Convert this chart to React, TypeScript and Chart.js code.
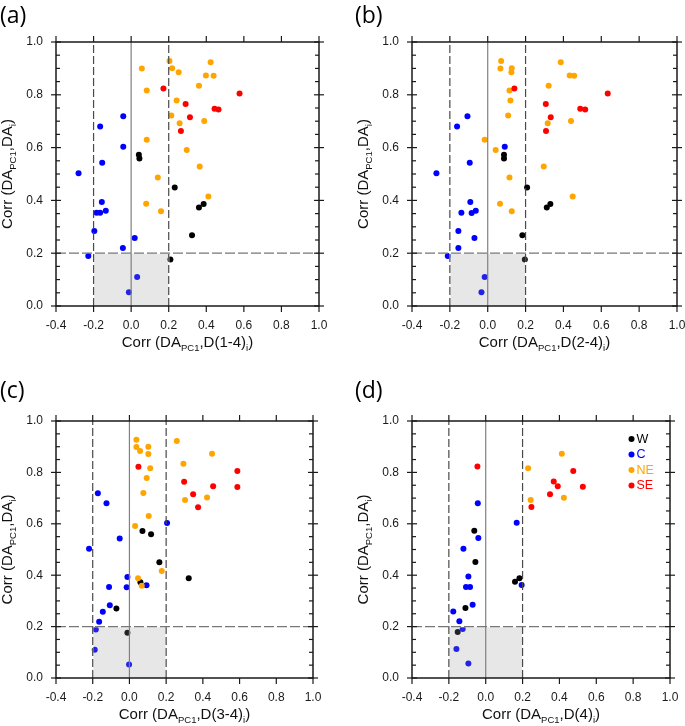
import React, { useEffect, useRef } from "react";
import { Chart, registerables } from "chart.js";
Chart.register(...registerables);

type Pt = [number, number];

const GROUP_NAMES = ["W", "C", "NE", "SE"];
const GROUP_COLORS = ["#000000", "#0000ff", "#ffa500", "#ff0000"];
const X_MIN = -0.4;
const X_MAX = 1.0;
const Y_MIN = 0.0;
const Y_MAX = 1.0;
const TICK_STEP = 0.2;
const MINOR_STEP = 0.05;

// Panel (a): Corr(DA_PC1, D(1-4)_i) vs Corr(DA_PC1, DA_i)
const aW: Pt[] = [[0.041, 0.573], [0.044, 0.559], [0.232, 0.449], [0.386, 0.386], [0.361, 0.373], [0.324, 0.268], [0.209, 0.176]];
const aC: Pt[] = [[-0.042, 0.719], [-0.165, 0.68], [-0.042, 0.603], [-0.154, 0.543], [-0.28, 0.503], [-0.156, 0.394], [-0.184, 0.353], [-0.165, 0.353], [-0.135, 0.361], [-0.196, 0.284], [0.019, 0.258], [-0.044, 0.22], [-0.228, 0.189], [0.032, 0.11], [-0.012, 0.052]];
const aNE: Pt[] = [[0.204, 0.928], [0.423, 0.923], [0.057, 0.9], [0.218, 0.901], [0.253, 0.885], [0.398, 0.873], [0.439, 0.872], [0.361, 0.834], [0.083, 0.816], [0.242, 0.778], [0.214, 0.722], [0.258, 0.692], [0.389, 0.701], [0.083, 0.63], [0.296, 0.591], [0.365, 0.528], [0.142, 0.487], [0.411, 0.415], [0.08, 0.387], [0.159, 0.359]];
const aSE: Pt[] = [[0.172, 0.824], [0.577, 0.805], [0.29, 0.765], [0.444, 0.747], [0.465, 0.744], [0.313, 0.715], [0.265, 0.663]];

// Panel (b): Corr(DA_PC1, D(2-4)_i)
const bW: Pt[] = [[0.086, 0.573], [0.086, 0.559], [0.208, 0.449], [0.331, 0.386], [0.312, 0.373], [0.183, 0.268], [0.196, 0.176]];
const bC: Pt[] = [[-0.107, 0.719], [-0.162, 0.68], [0.09, 0.603], [-0.095, 0.543], [-0.271, 0.503], [-0.092, 0.394], [-0.139, 0.353], [-0.085, 0.352], [-0.063, 0.361], [-0.155, 0.284], [-0.07, 0.258], [-0.155, 0.22], [-0.211, 0.189], [-0.016, 0.11], [-0.033, 0.052]];
const bNE: Pt[] = [[0.071, 0.928], [0.386, 0.923], [0.067, 0.9], [0.127, 0.901], [0.125, 0.885], [0.433, 0.873], [0.457, 0.872], [0.322, 0.834], [0.115, 0.816], [0.12, 0.778], [0.108, 0.722], [0.317, 0.692], [0.44, 0.701], [-0.016, 0.63], [0.042, 0.591], [0.296, 0.528], [0.115, 0.487], [0.449, 0.415], [0.065, 0.387], [0.127, 0.359]];
const bSE: Pt[] = [[0.141, 0.824], [0.634, 0.805], [0.307, 0.765], [0.489, 0.747], [0.515, 0.744], [0.333, 0.715], [0.308, 0.663]];

// Panel (c): Corr(DA_PC1, D(3-4)_i)
const cW: Pt[] = [[0.071, 0.572], [0.118, 0.559], [0.163, 0.45], [0.06, 0.373], [0.323, 0.388], [-0.071, 0.27], [-0.011, 0.176]];
const cC: Pt[] = [[-0.172, 0.719], [-0.125, 0.68], [0.205, 0.603], [-0.053, 0.543], [-0.22, 0.503], [-0.011, 0.393], [-0.111, 0.354], [-0.015, 0.353], [0.093, 0.361], [-0.107, 0.283], [-0.145, 0.258], [-0.165, 0.219], [-0.183, 0.189], [-0.189, 0.11], [-0.002, 0.053]];
const cNE: Pt[] = [[0.038, 0.927], [0.258, 0.922], [0.038, 0.899], [0.103, 0.9], [0.058, 0.883], [0.45, 0.873], [0.103, 0.872], [0.294, 0.834], [0.113, 0.816], [0.094, 0.778], [0.076, 0.72], [0.423, 0.702], [0.303, 0.693], [0.105, 0.63], [0.031, 0.591], [0.176, 0.416], [0.047, 0.388], [0.067, 0.359]];
const cSE: Pt[] = [[0.049, 0.822], [0.588, 0.805], [0.298, 0.764], [0.456, 0.746], [0.588, 0.743], [0.347, 0.715], [0.374, 0.664]];

// Panel (d): Corr(DA_PC1, D(4)_i)
const dW: Pt[] = [[-0.062, 0.573], [-0.056, 0.451], [0.159, 0.375], [0.183, 0.388], [-0.11, 0.272], [-0.152, 0.179]];
const dC: Pt[] = [[-0.043, 0.68], [0.168, 0.604], [-0.04, 0.545], [-0.121, 0.503], [-0.094, 0.395], [-0.107, 0.354], [-0.085, 0.354], [0.195, 0.362], [-0.071, 0.285], [-0.176, 0.259], [-0.143, 0.221], [-0.125, 0.191], [-0.159, 0.113], [-0.094, 0.056]];
const dNE: Pt[] = [[0.413, 0.873], [0.23, 0.816], [0.244, 0.693], [0.424, 0.701]];
const dSE: Pt[] = [[-0.045, 0.823], [0.475, 0.805], [0.369, 0.765], [0.391, 0.746], [0.527, 0.744], [0.349, 0.715], [0.248, 0.665]];

const PANEL_LETTERS = ["(a)", "(b)", "(c)", "(d)"];
const X_TITLE_MIDS = ["D(1-4)", "D(2-4)", "D(3-4)", "D(4)"];

const FONT = "'Liberation Sans', Arial, Helvetica, sans-serif";
const LETTER_FONT = "'Open Sans', 'Noto Sans', sans-serif";
const FRAME = "#1a1a1a";

type PanelCfg = {
  letter: string;
  xMid: string;
  groups: Pt[][];
  left: number;
  top: number;
  right: number;
  bottom: number;
  topPad: number;
  letterX: number;
  letterY: number;
  legend: boolean;
};

const PANELS: PanelCfg[] = [
  { letter: PANEL_LETTERS[0], xMid: X_TITLE_MIDS[0], groups: [aW, aC, aNE, aSE], left: 56, top: 42, right: 319, bottom: 306, topPad: 42, letterX: 0, letterY: 16, legend: false },
  { letter: PANEL_LETTERS[1], xMid: X_TITLE_MIDS[1], groups: [bW, bC, bNE, bSE], left: 412, top: 42, right: 677, bottom: 306, topPad: 42, letterX: 355, letterY: 16, legend: false },
  { letter: PANEL_LETTERS[2], xMid: X_TITLE_MIDS[2], groups: [cW, cC, cNE, cSE], left: 56, top: 421, right: 313, bottom: 678, topPad: 50, letterX: 0, letterY: 391, legend: false },
  { letter: PANEL_LETTERS[3], xMid: X_TITLE_MIDS[3], groups: [dW, dC, dNE, dSE], left: 412, top: 421, right: 670, bottom: 678, topPad: 50, letterX: 355, letterY: 391, legend: true },
];

const LEFT_W = 56;
const RIGHT_PAD = 8;
const BOTTOM_H = 46;

type Part = { t: string; sub?: boolean };

function fmt(v: any) {
  const n = Number(v);
  return (Math.abs(n) < 1e-9 ? 0 : n).toFixed(1);
}

function richWidth(ctx: CanvasRenderingContext2D, parts: Part[], size: number, subSize: number) {
  let w = 0;
  for (const p of parts) {
    ctx.font = `${p.sub ? subSize : size}px ${FONT}`;
    w += ctx.measureText(p.t).width;
  }
  return w;
}

function drawRich(ctx: CanvasRenderingContext2D, parts: Part[], cx: number, baseline: number, size: number, subSize: number, subOff: number) {
  const w = richWidth(ctx, parts, size, subSize);
  let x = cx - w / 2;
  ctx.textAlign = "left";
  ctx.textBaseline = "alphabetic";
  for (const p of parts) {
    ctx.font = `${p.sub ? subSize : size}px ${FONT}`;
    ctx.fillText(p.t, x, baseline + (p.sub ? subOff : 0));
    x += ctx.measureText(p.t).width;
  }
}

function seg(ctx: CanvasRenderingContext2D, x1: number, y1: number, x2: number, y2: number) {
  ctx.beginPath();
  ctx.moveTo(x1, y1);
  ctx.lineTo(x2, y2);
  ctx.stroke();
}

function makeDeco(cfg: PanelCfg, canvasLeft: number, canvasTop: number) {
  return {
    id: "deco",
    afterDraw(chart: any) {
      const ctx: CanvasRenderingContext2D = chart.ctx;
      const a = chart.chartArea;
      const xs = chart.scales.x;
      const ys = chart.scales.y;
      const L = a.left;
      const R = a.right;
      const T = a.top;
      const B = a.bottom;
      const xl = xs.getPixelForValue(-0.2);
      const xr = xs.getPixelForValue(0.2);
      const x0 = xs.getPixelForValue(0);
      const y2 = ys.getPixelForValue(0.2);

      ctx.save();
      ctx.fillStyle = "rgba(150,150,150,0.23)";
      ctx.fillRect(xl, y2, xr - xl, B - y2);
      ctx.lineWidth = 1.2;
      ctx.strokeStyle = "#ffffff";
      seg(ctx, xl, B, xl, y2);
      seg(ctx, xr, B, xr, y2);
      seg(ctx, xl, y2, xr, y2);
      ctx.strokeStyle = "#808080";
      seg(ctx, x0, B, x0, T);
      ctx.setLineDash([8, 3]);
      ctx.strokeStyle = "#4a4a4a";
      seg(ctx, xl, B, xl, T);
      seg(ctx, xr, B, xr, T);
      ctx.setLineDash([10, 3]);
      ctx.strokeStyle = "#777777";
      seg(ctx, L, y2, R, y2);
      ctx.restore();

      ctx.save();
      ctx.fillStyle = "#111111";
      const xParts: Part[] = [{ t: "Corr (DA" }, { t: "PC1", sub: true }, { t: "," + cfg.xMid }, { t: "i", sub: true }, { t: ")" }];
      drawRich(ctx, xParts, (L + R) / 2, B + 41, 15, 9.5, 4);
      const yParts: Part[] = [{ t: "Corr (DA" }, { t: "PC1", sub: true }, { t: ",DA" }, { t: "i", sub: true }, { t: ")" }];
      ctx.save();
      ctx.translate(L - 44, (T + B) / 2);
      ctx.rotate(-Math.PI / 2);
      drawRich(ctx, yParts, 0, 0, 15, 9.5, 4);
      ctx.restore();

      ctx.font = `23px ${LETTER_FONT}`;
      ctx.textAlign = "left";
      ctx.textBaseline = "middle";
      ctx.fillStyle = "#000000";
      ctx.fillText(cfg.letter, cfg.letterX - canvasLeft, cfg.letterY - canvasTop);

      if (cfg.legend) {
        ctx.font = `12.5px ${FONT}`;
        ctx.textBaseline = "middle";
        GROUP_NAMES.forEach((name, i) => {
          const cy = T + 18 + i * 15.5;
          const cx = L + 219.5;
          ctx.fillStyle = GROUP_COLORS[i];
          ctx.beginPath();
          ctx.arc(cx, cy, 3, 0, Math.PI * 2);
          ctx.fill();
          ctx.fillText(name, cx + 5, cy + 0.5);
        });
      }
      ctx.restore();
    },
  };
}

// Frame and tick marks as an SVG overlay, positioned from the same axis ranges
function FrameOverlay({ cfg }: { cfg: PanelCfg }) {
  const w = cfg.right - cfg.left;
  const h = cfg.bottom - cfg.top;
  const px = (v: number) => cfg.left + ((v - X_MIN) / (X_MAX - X_MIN)) * w;
  const py = (v: number) => cfg.bottom - ((v - Y_MIN) / (Y_MAX - Y_MIN)) * h;
  const items: JSX.Element[] = [];
  const nX = Math.round((X_MAX - X_MIN) / TICK_STEP);
  for (let i = 0; i <= nX; i++) {
    const x = px(X_MIN + i * TICK_STEP);
    items.push(<line key={`xb${i}`} x1={x} y1={cfg.bottom} x2={x} y2={cfg.bottom + 6} />);
    items.push(<line key={`xt${i}`} x1={x} y1={cfg.top} x2={x} y2={cfg.top - 6} />);
  }
  const nY = Math.round((Y_MAX - Y_MIN) / MINOR_STEP);
  for (let i = 0; i <= nY; i++) {
    const y = py(Y_MIN + i * MINOR_STEP);
    if (i % 4 === 0) {
      items.push(<line key={`yl${i}`} x1={cfg.left - 5} y1={y} x2={cfg.left + 5} y2={y} />);
      items.push(<line key={`yr${i}`} x1={cfg.right - 5} y1={y} x2={cfg.right + 5} y2={y} />);
    } else {
      items.push(<line key={`yl${i}`} x1={cfg.left} y1={y} x2={cfg.left + 4} y2={y} />);
      items.push(<line key={`yr${i}`} x1={cfg.right - 4} y1={y} x2={cfg.right} y2={y} />);
    }
  }
  return (
    <g stroke={FRAME} strokeWidth={1.2} fill="none">
      <rect x={cfg.left} y={cfg.top} width={w} height={h} strokeWidth={1.5} />
      {items}
    </g>
  );
}

function Panel({ cfg }: { cfg: PanelCfg }) {
  const ref = useRef<HTMLCanvasElement | null>(null);
  const areaW = cfg.right - cfg.left;
  const areaH = cfg.bottom - cfg.top;
  const W = LEFT_W + areaW + RIGHT_PAD;
  const H = cfg.topPad + areaH + BOTTOM_H;
  const canvasLeft = cfg.left - LEFT_W;
  const canvasTop = cfg.top - cfg.topPad;

  useEffect(() => {
    if (!ref.current) return;
    const chart = new Chart(ref.current, {
      type: "scatter",
      data: {
        datasets: cfg.groups.map((pts, i) => ({
          label: GROUP_NAMES[i],
          data: pts.map(([x, y]) => ({ x, y })),
          backgroundColor: GROUP_COLORS[i],
          borderColor: GROUP_COLORS[i],
          borderWidth: 0,
          pointRadius: 3,
          pointHoverRadius: 3,
          order: 3 - i,
        })),
      },
      options: {
        animation: false,
        responsive: false,
        maintainAspectRatio: false,
        devicePixelRatio: 1,
        layout: { padding: { left: 0, top: cfg.topPad, right: RIGHT_PAD, bottom: 0 } },
        plugins: { legend: { display: false }, tooltip: { enabled: false } },
        scales: {
          x: {
            type: "linear",
            min: X_MIN,
            max: X_MAX,
            ticks: {
              stepSize: TICK_STEP,
              padding: 12,
              color: "#1a1a1a",
              font: { family: FONT, size: 12 },
              maxRotation: 0,
              autoSkip: false,
              callback: fmt,
            },
            grid: { display: false, drawTicks: false },
            border: { display: false },
            afterFit: (s: any) => {
              s.height = BOTTOM_H;
              s.paddingLeft = 0;
              s.paddingRight = 0;
            },
          },
          y: {
            type: "linear",
            min: Y_MIN,
            max: Y_MAX,
            ticks: {
              stepSize: TICK_STEP,
              padding: 13,
              color: "#1a1a1a",
              font: { family: FONT, size: 12 },
              callback: fmt,
            },
            grid: { display: false, drawTicks: false },
            border: { display: false },
            afterFit: (s: any) => {
              s.width = LEFT_W;
              s.paddingTop = 0;
              s.paddingBottom = 0;
            },
          },
        },
      } as any,
      plugins: [makeDeco(cfg, canvasLeft, canvasTop)],
    });
    return () => chart.destroy();
  }, []);

  return (
    <canvas
      ref={ref}
      width={W}
      height={H}
      style={{ position: "absolute", left: canvasLeft, top: canvasTop, width: W, height: H }}
    />
  );
}

export default function App() {
  return (
    <div style={{ position: "fixed", left: 0, top: 0, width: 685, height: 726, overflow: "hidden", background: "#ffffff" }}>
      {PANELS.map((p) => (
        <Panel key={p.letter} cfg={p} />
      ))}
      <svg
        width={685}
        height={726}
        style={{ position: "absolute", left: 0, top: 0, pointerEvents: "none" }}
      >
        {PANELS.map((p) => (
          <FrameOverlay key={p.letter} cfg={p} />
        ))}
      </svg>
    </div>
  );
}
